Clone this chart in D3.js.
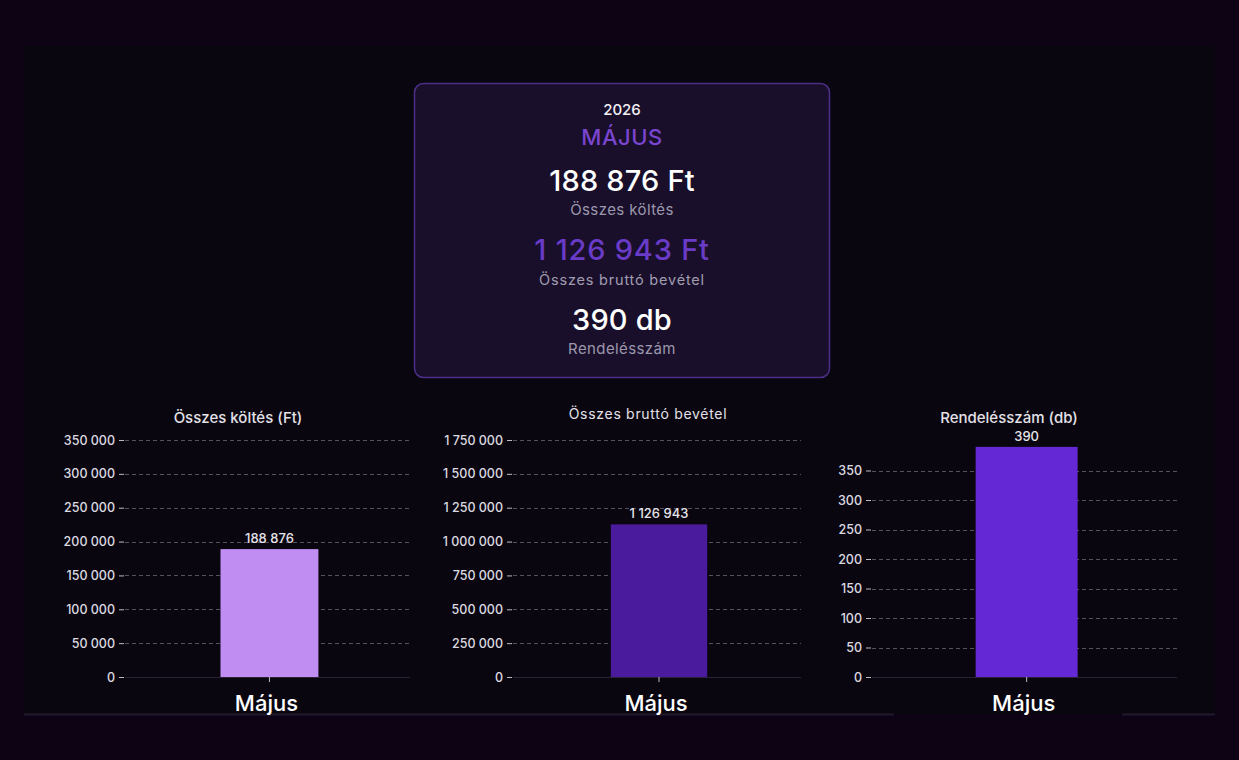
<!DOCTYPE html>
<html>
<head>
<meta charset="utf-8">
<script src="https://cdn.jsdelivr.net/npm/d3@7"></script>
<style>
  html, body { margin: 0; padding: 0; background: #0e0314; }
  svg { display: block; }
</style>
</head>
<body>
<svg id="chart" width="1239" height="760"></svg>
<script>
// ---- data ----
const year = "2026";
const monthTitle = "MÁJUS";
const categories = ["Május"];
const spending = [188876];
const revenue = [1126943];
const orders = [390];
const spendingTicks = [0, 50000, 100000, 150000, 200000, 250000, 300000, 350000];
const revenueTicks = [0, 250000, 500000, 750000, 1000000, 1250000, 1500000, 1750000];
const orderTicks = [0, 50, 100, 150, 200, 250, 300, 350];
const chartTitles = ["Összes költés (Ft)", "Összes bruttó bevétel", "Rendelésszám (db)"];
const cardLabels = ["Összes költés", "Összes bruttó bevétel", "Rendelésszám"];

// ---- setup ----
const hu = d3.formatLocale({decimal: ",", thousands: " ", grouping: [3], currency: ["", " Ft"]});
const fmt = hu.format(",d");
const svg = d3.select("#chart");
const FONT = "Inter, 'Noto Sans', sans-serif";

svg.append("rect").attr("width", 1239).attr("height", 760).attr("fill", "#0e0314");
svg.append("rect").attr("x", 24).attr("y", 46).attr("width", 1191).attr("height", 668).attr("fill", "#0a0610");
// bottom separator line
svg.append("line").attr("x1", 24).attr("x2", 894).attr("y1", 714.5).attr("y2", 714.5).attr("stroke", "#1f1b2c").attr("stroke-width", 2);
svg.append("line").attr("x1", 1122).attr("x2", 1215).attr("y1", 714.5).attr("y2", 714.5).attr("stroke", "#1f1b2c").attr("stroke-width", 2);

// ---- summary card ----
const card = svg.append("g");
card.append("rect").attr("x", 414.5).attr("y", 83.5).attr("width", 415).attr("height", 294).attr("rx", 9)
  .attr("fill", "#190f2b").attr("stroke", "#4b2f86").attr("stroke-width", 1.5);
const cx = 622;
const cardText = [
  {t: year, y: 115, s: 15, c: "#f2f0f5", w: 500, ls: 0},
  {t: monthTitle, y: 145, s: 22, c: "#7a45cf", w: 500, ls: 0.5},
  {t: fmt(spending[0]) + " Ft", y: 191, s: 29, c: "#ffffff", w: 500, ls: 0.2},
  {t: cardLabels[0], y: 215, s: 15, c: "#9c98ab", w: 400, ls: 0.4},
  {t: fmt(revenue[0]) + " Ft", y: 260, s: 29, c: "#6a3bc6", w: 500, ls: 0.8},
  {t: cardLabels[1], y: 285, s: 14.5, c: "#a19db0", w: 400, ls: 0.8},
  {t: fmt(orders[0]) + " db", y: 330, s: 29, c: "#ffffff", w: 500, ls: 0.2},
  {t: cardLabels[2], y: 354, s: 15, c: "#9c98ab", w: 400, ls: 0.4}
];
card.selectAll("text.ct").data(cardText).join("text")
  .attr("x", cx).attr("y", d => d.y).attr("text-anchor", "middle")
  .attr("font-family", FONT).attr("font-size", d => d.s).attr("font-weight", d => d.w)
  .attr("letter-spacing", d => d.ls)
  .attr("fill", d => d.c).text(d => d.t);

// ---- bar charts ----
const charts = [
  {title: chartTitles[0], values: spending, ticks: spendingTicks, x0: 124, x1: 410, yTop: 440, titleX: 238, titleY: 423, titleSize: 15, titleW: 500, titleLs: 0, color: "#c08ef2", pad: 0.49},
  {title: chartTitles[1], values: revenue, ticks: revenueTicks, x0: 512, x1: 801, yTop: 440, titleX: 648, titleY: 419, titleSize: 14, titleW: 400, titleLs: 0.7, color: "#4a1b9d", pad: 0.5},
  {title: chartTitles[2], values: orders, ticks: orderTicks, x0: 871, x1: 1177, yTop: 470.5, titleX: 1009, titleY: 423, titleSize: 15, titleW: 500, titleLs: 0, color: "#6428d5", pad: 0.5}
];
const yBase = 677;

charts.forEach(ch => {
  const g = svg.append("g");
  const x = d3.scaleBand().domain(categories).range([ch.x0, ch.x1]).padding(ch.pad).align(0.513);
  const y = d3.scaleLinear().domain([0, ch.ticks[ch.ticks.length - 1]]).range([yBase, ch.yTop]);

  // grid lines
  g.selectAll("line.grid").data(ch.ticks.filter(t => t > 0)).join("line")
    .attr("x1", ch.x0 + 1).attr("x2", ch.x1)
    .attr("y1", d => Math.round(y(d)) + 0.5).attr("y2", d => Math.round(y(d)) + 0.5)
    .attr("stroke", "#56525f").attr("stroke-width", 1).attr("stroke-dasharray", "4,3");
  // baseline
  g.append("line").attr("x1", ch.x0 + 1).attr("x2", ch.x1).attr("y1", yBase + 0.5).attr("y2", yBase + 0.5)
    .attr("stroke", "#2a2338").attr("stroke-width", 1);

  // y axis
  const ya = g.append("g").attr("transform", `translate(${ch.x0},0)`)
    .call(d3.axisLeft(y).tickValues(ch.ticks).tickFormat(fmt).tickSize(5).tickPadding(4));
  ya.select(".domain").remove();
  ya.selectAll(".tick line").attr("stroke", "#bdbac4");
  ya.selectAll(".tick text").attr("fill", "#dcdae0").attr("font-family", FONT).attr("font-size", 12.5).attr("font-weight", 500);

  // bars
  g.selectAll("rect.bar").data(ch.values).join("rect")
    .attr("x", (d, i) => x(categories[i])).attr("width", x.bandwidth())
    .attr("y", d => y(d)).attr("height", d => yBase - y(d))
    .attr("fill", ch.color);

  // value labels
  g.selectAll("text.val").data(ch.values).join("text")
    .attr("x", (d, i) => x(categories[i]) + x.bandwidth() / 2)
    .attr("y", d => y(d) - 6).attr("text-anchor", "middle")
    .attr("font-family", FONT).attr("font-size", 13).attr("font-weight", 500).attr("fill", "#e6e4ea")
    .text(d => fmt(d));

  // x axis
  const xa = g.append("g").attr("transform", `translate(0,${yBase})`)
    .call(d3.axisBottom(x).tickSize(5).tickPadding(13));
  xa.select(".domain").remove();
  xa.selectAll(".tick line").attr("stroke", "#bdbac4");
  xa.selectAll(".tick text").attr("fill", "#ffffff").attr("font-family", FONT).attr("font-size", 22).attr("font-weight", 500)
    .attr("dx", -3);

  // title
  g.append("text").attr("x", ch.titleX).attr("y", ch.titleY).attr("text-anchor", "middle")
    .attr("font-family", FONT).attr("font-size", ch.titleSize).attr("font-weight", ch.titleW)
    .attr("letter-spacing", ch.titleLs).attr("fill", "#e4e2e8")
    .text(ch.title);
});
</script>
</body>
</html>
